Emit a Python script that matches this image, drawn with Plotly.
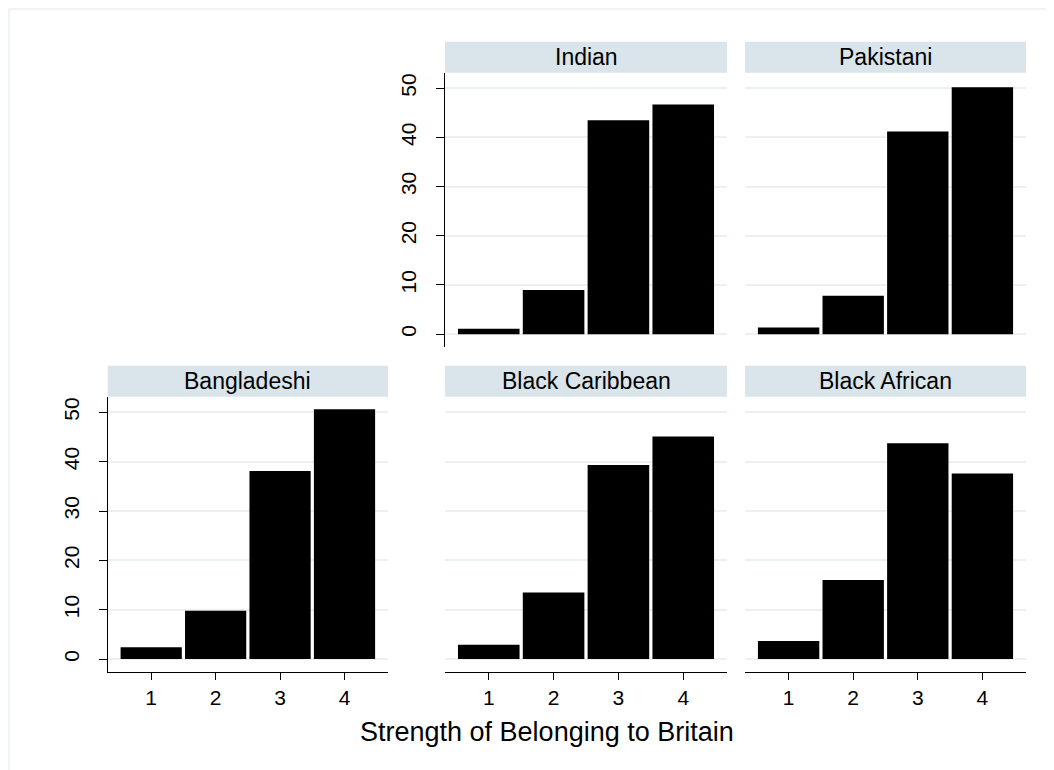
import plotly.graph_objects as go

categories = [1, 2, 3, 4]
groups = ["Indian", "Pakistani", "Bangladeshi", "Black Caribbean", "Black African"]
indian = [1.1, 9.0, 43.5, 46.7]
pakistani = [1.35, 7.8, 41.2, 50.2]
bangladeshi = [2.4, 9.8, 38.1, 50.6]
black_caribbean = [2.9, 13.5, 39.3, 45.1]
black_african = [3.65, 16.0, 43.7, 37.6]
y_ticks = [0, 10, 20, 30, 40, 50]
x_title = "Strength of Belonging to Britain"

series = [indian, pakistani, bangladeshi, black_caribbean, black_african]

W, H = 1054, 770
OFF = 8  # page body margin offset
FONT = "Liberation Sans, Arial, Helvetica, sans-serif"
GRID = "#eaf1f3"
STRIP = "#d9e5eb"

cols = [(107.7, 388.0), (445.0, 727.0), (745.0, 1026.0)]
top_row = (72.7, 346.7)
bot_row = (396.7, 671.7)
panels = [
    (cols[1], top_row, True, False),
    (cols[2], top_row, False, False),
    (cols[0], bot_row, True, True),
    (cols[1], bot_row, False, True),
    (cols[2], bot_row, False, True),
]

def px(x):
    return (x - OFF) / W

def py(y):
    return 1 - (y - OFF) / H

fig = go.Figure()
shapes = []
annotations = []
layout = {}
for i, (name, vals, (xc, yr, show_y, show_x)) in enumerate(zip(groups, series, panels)):
    k = "" if i == 0 else str(i + 1)
    fig.add_trace(go.Bar(
        x=categories, y=vals, xaxis="x" + k, yaxis="y" + k,
        marker=dict(color="black", line=dict(width=0)),
        showlegend=False, hoverinfo="x+y",
    ))
    layout["xaxis" + k] = dict(
        domain=[px(xc[0]), px(xc[1])], anchor="y" + k,
        range=[0.325, 4.675], tickvals=categories,
        showgrid=False, zeroline=False,
        showline=show_x, linecolor="black", linewidth=1.3,
        ticks="outside" if show_x else "", ticklen=7, tickcolor="black", tickwidth=1.3,
        showticklabels=show_x,
        tickfont=dict(family=FONT, size=21, color="black"),
        fixedrange=True,
    )
    layout["yaxis" + k] = dict(
        domain=[py(yr[1]), py(yr[0])], anchor="x" + k,
        range=[-2.55, 53.15], tickvals=y_ticks,
        showgrid=True, gridcolor=GRID, gridwidth=1.5, zeroline=False,
        showline=show_y, linecolor="black", linewidth=1.3,
        ticks="outside" if show_y else "", ticklen=8, tickcolor="black", tickwidth=1.3,
        showticklabels=show_y, tickangle=-90, ticklabelstandoff=11,
        tickfont=dict(family=FONT, size=21, color="black"),
        fixedrange=True,
    )
    shapes.append(dict(type="rect", xref="paper", yref="paper",
                       x0=px(xc[0]), x1=px(xc[1]), y0=py(yr[0]), y1=py(yr[0] - 31),
                       fillcolor=STRIP, line=dict(width=0), layer="below"))
    annotations.append(dict(text=name, xref="paper", yref="paper",
                            x=px((xc[0] + xc[1]) / 2), y=py(yr[0] - 15.5),
                            xanchor="center", yanchor="middle", showarrow=False,
                            font=dict(family=FONT, size=23, color="black")))

# outer graph-region frame (left and top edges visible)
shapes.append(dict(type="rect", xref="paper", yref="paper",
                   x0=px(9), x1=px(1080), y0=py(800), y1=py(9),
                   line=dict(color=GRID, width=1.5), fillcolor="rgba(0,0,0,0)", layer="below"))

annotations.append(dict(text=x_title, xref="paper", yref="paper",
                        x=px(547), y=py(732), xanchor="center", yanchor="middle",
                        showarrow=False, font=dict(family=FONT, size=27, color="black")))

fig.update_layout(
    width=W, height=H, margin=dict(l=0, r=0, t=0, b=0),
    paper_bgcolor="white", plot_bgcolor="white",
    bargap=0.05, shapes=shapes, annotations=annotations,
    font=dict(family=FONT, color="black"),
    **layout,
)

fig.write_html("out.html")
